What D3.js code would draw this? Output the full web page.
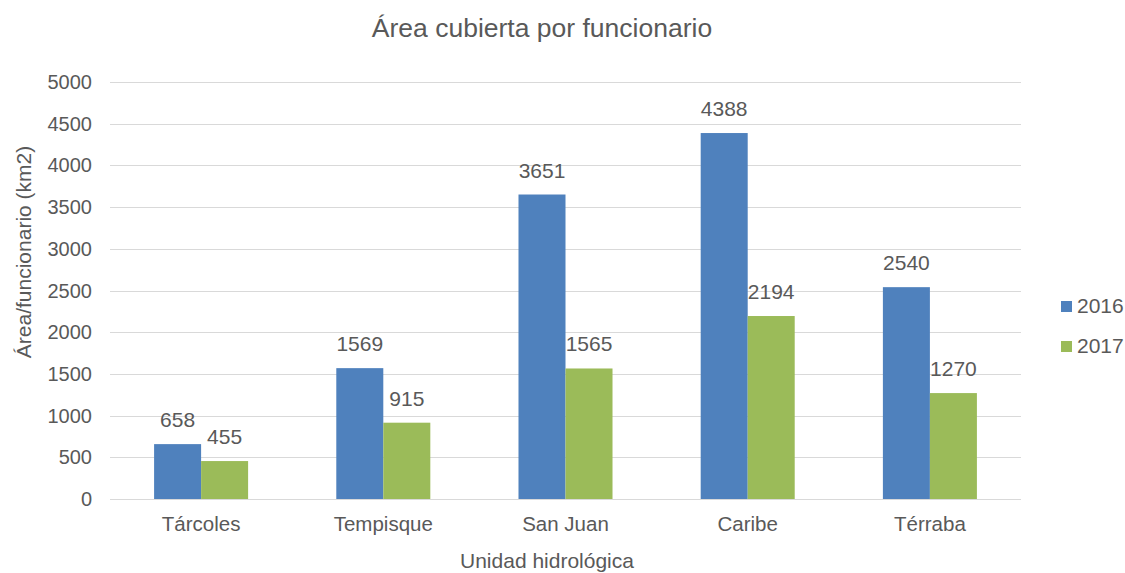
<!DOCTYPE html>
<html>
<head>
  <meta charset="utf-8">
  <title>Área cubierta por funcionario</title>
  <script src="https://cdn.jsdelivr.net/npm/d3@7"></script>
  <style>
    body { margin: 0; background: #fff; }
    text { font-family: "Liberation Sans", Arial, sans-serif; fill: #595959; }
  </style>
</head>
<body>
  <script>
    const w = 1125;
    const h = 573;

    // data
    const categories = ["Tárcoles", "Tempisque", "San Juan", "Caribe", "Térraba"];
    const series = ["2016", "2017"];
    const values2016 = [658, 1569, 3651, 4388, 2540];
    const values2017 = [455, 915, 1565, 2194, 1270];
    const yTicks = [0, 500, 1000, 1500, 2000, 2500, 3000, 3500, 4000, 4500, 5000];
    const colors = ["#4F81BD", "#9BBB59"];

    const rows = categories.map(function (c, i) {
      return { cat: c, vals: [values2016[i], values2017[i]] };
    });

    const m = { left: 110, right: 1021, top: 82, bottom: 499 };

    const svg = d3.select("body").append("svg")
      .attr("width", w)
      .attr("height", h);

    const x = d3.scaleBand()
      .domain(categories)
      .range([m.left, m.right])
      .paddingInner(0.484)
      .paddingOuter(0.242);

    const xInner = d3.scaleBand()
      .domain(series)
      .range([0, x.bandwidth()]);

    const y = d3.scaleLinear()
      .domain([0, 5000])
      .range([m.bottom, m.top]);

    // gridlines
    svg.append("g")
      .selectAll("line")
      .data(yTicks)
      .enter()
      .append("line")
      .attr("x1", m.left)
      .attr("x2", m.right)
      .attr("y1", function (d) { return Math.round(y(d)) + 0.5; })
      .attr("y2", function (d) { return Math.round(y(d)) + 0.5; })
      .attr("stroke", "#D9D9D9")
      .attr("stroke-width", 1);

    // y tick labels
    svg.append("g")
      .selectAll("text")
      .data(yTicks)
      .enter()
      .append("text")
      .attr("x", 92)
      .attr("y", function (d) { return y(d); })
      .attr("dy", "0.35em")
      .attr("text-anchor", "end")
      .style("font-size", "20px")
      .text(function (d) { return d; });

    // x labels
    svg.append("g")
      .selectAll("text")
      .data(categories)
      .enter()
      .append("text")
      .attr("x", function (d) { return x(d) + x.bandwidth() / 2; })
      .attr("y", 531)
      .attr("text-anchor", "middle")
      .style("font-size", "20.5px")
      .text(function (d) { return d; });

    // bars
    const groups = svg.append("g")
      .selectAll("g")
      .data(rows)
      .enter()
      .append("g")
      .attr("transform", function (d) { return "translate(" + x(d.cat) + ",0)"; });

    groups.selectAll("rect")
      .data(function (d) { return d.vals; })
      .enter()
      .append("rect")
      .attr("x", function (d, i) { return xInner(series[i]); })
      .attr("y", function (d) { return y(d); })
      .attr("width", xInner.bandwidth())
      .attr("height", function (d) { return y(0) - y(d); })
      .attr("fill", function (d, i) { return colors[i]; });

    groups.selectAll("text")
      .data(function (d) { return d.vals; })
      .enter()
      .append("text")
      .attr("x", function (d, i) { return xInner(series[i]) + xInner.bandwidth() / 2; })
      .attr("y", function (d) { return y(d) - 17; })
      .attr("text-anchor", "middle")
      .style("font-size", "21px")
      .text(function (d) { return d; });

    // title
    svg.append("text")
      .attr("x", 542)
      .attr("y", 37)
      .attr("text-anchor", "middle")
      .style("font-size", "26.5px")
      .text("Área cubierta por funcionario");

    // axis titles
    svg.append("text")
      .attr("x", 547)
      .attr("y", 568)
      .attr("text-anchor", "middle")
      .style("font-size", "21px")
      .text("Unidad hidrológica");

    svg.append("text")
      .attr("transform", "translate(31,252) rotate(-90)")
      .attr("text-anchor", "middle")
      .style("font-size", "21px")
      .text("Área/funcionario (km2)");

    // legend
    const legend = svg.append("g")
      .selectAll("g")
      .data(series)
      .enter()
      .append("g")
      .attr("transform", function (d, i) { return "translate(1061," + (306 + i * 40) + ")"; });

    legend.append("rect")
      .attr("x", 0)
      .attr("y", -5)
      .attr("width", 11)
      .attr("height", 11)
      .attr("fill", function (d, i) { return colors[i]; });

    legend.append("text")
      .attr("x", 16)
      .attr("y", 0)
      .attr("dy", "0.35em")
      .style("font-size", "21px")
      .text(function (d) { return d; });
  </script>
</body>
</html>
